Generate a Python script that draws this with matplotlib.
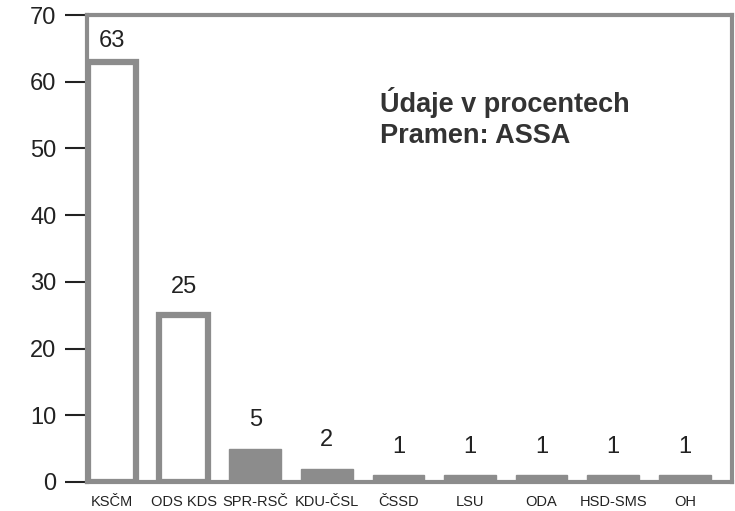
import matplotlib
matplotlib.use("Agg")
import matplotlib.pyplot as plt
import numpy as np

parties = ["KSČM", "ODS KDS", "SPR-RSČ", "KDU-ČSL", "ČSSD", "LSU", "ODA", "HSD-SMS", "OH"]
values = [63, 25, 5, 2, 1, 1, 1, 1, 1]
yticks = [0, 10, 20, 30, 40, 50, 60, 70]

plt.rcParams['font.family'] = ['Liberation Sans', 'DejaVu Sans']
fig = plt.figure(figsize=(7.35, 5.11), dpi=100)
ax = fig.add_axes([87/735, 1-482/511, (732-87)/735, (482-15)/511])

gray = "#8c8c8c"
x = np.arange(len(parties))
for i, v in enumerate(values):
    if i < 2:
        ax.bar(x[i], v, width=0.68, facecolor="white", edgecolor=gray, linewidth=4.5, zorder=3)
    else:
        ax.bar(x[i], v, width=0.72, facecolor=gray, edgecolor=gray, linewidth=1, zorder=3)
    ax.text(x[i], v + (1.4 if v > 50 else 2.6), str(v), ha="center", va="bottom",
            fontsize=17, color="#222222")

ax.set_xlim(-0.35, 8.66)
ax.set_ylim(0, 70)
ax.set_yticks(yticks)
ax.set_yticklabels([str(t) for t in yticks], fontsize=17, color="#222222")
ax.tick_params(axis="y", length=16, width=1.5, color="#222222", pad=6, direction="out")
ax.set_xticks(x)
ax.set_xticklabels(parties, fontsize=10.5, color="#222222",
                   family=['Liberation Sans Narrow', 'Liberation Sans', 'DejaVu Sans'])
ax.tick_params(axis="x", length=0, pad=9)
for s in ax.spines.values():
    s.set_color(gray)
    s.set_linewidth(3)

ax.text(0.455, 0.845, "Údaje v procentech\nPramen: ASSA", transform=ax.transAxes,
        fontsize=19.5, fontweight="bold", color="#333333", va="top", ha="left", linespacing=1.25)

fig.savefig("out.png", dpi=100)
